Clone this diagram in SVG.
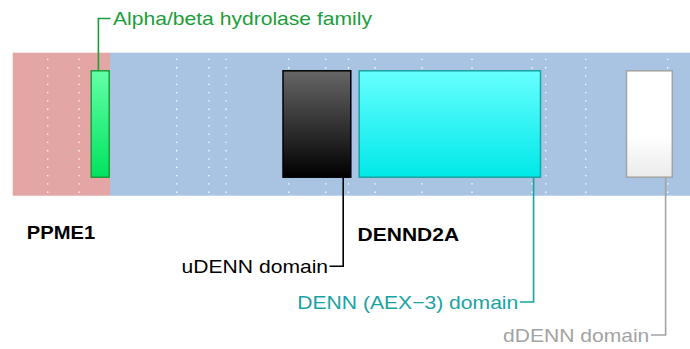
<svg xmlns="http://www.w3.org/2000/svg" width="690" height="349" viewBox="0 0 690 349">
<defs>
<linearGradient id="gGreen" x1="0" y1="0" x2="0" y2="1"><stop offset="0" stop-color="#63ffa6"/><stop offset="1" stop-color="#00e35e"/></linearGradient>
<linearGradient id="gBlack" x1="0" y1="0" x2="0" y2="1"><stop offset="0" stop-color="#666666"/><stop offset="1" stop-color="#000000"/></linearGradient>
<linearGradient id="gCyan" x1="0" y1="0" x2="0" y2="1"><stop offset="0" stop-color="#66ffff"/><stop offset="1" stop-color="#00e8e8"/></linearGradient>
<linearGradient id="gWhite" x1="0" y1="0" x2="0" y2="1"><stop offset="0" stop-color="#ffffff"/><stop offset="0.6" stop-color="#ffffff"/><stop offset="1" stop-color="#ebebeb"/></linearGradient>
</defs>
<style>
.dot{stroke:#ffffff;stroke-width:1.3;stroke-dasharray:1.3 7;fill:none}
.lbl{font-family:"Liberation Sans",Arial,sans-serif;font-size:18.5px}
.bold{font-family:"Liberation Sans",Arial,sans-serif;font-size:18px;font-weight:bold;fill:#000}
.con{fill:none;stroke-width:1.6}
.box{stroke-width:1.5}
</style>
<g id="background">
<rect x="12.7" y="52.7" width="97.3" height="143" fill="#e4a5a5"/>
<rect x="110" y="52.7" width="580" height="143" fill="#a9c4e3"/>
</g>
<g id="gridlines">
<line class="dot" x1="47.7" y1="58.8" x2="47.7" y2="194"/>
<line class="dot" x1="79" y1="58.8" x2="79" y2="194"/>
<line class="dot" x1="176.7" y1="58.8" x2="176.7" y2="194"/>
<line class="dot" x1="209" y1="58.8" x2="209" y2="194"/>
<line class="dot" x1="226" y1="58.8" x2="226" y2="194"/>
<line class="dot" x1="288.7" y1="58.8" x2="288.7" y2="194"/>
<line class="dot" x1="325.7" y1="58.8" x2="325.7" y2="194"/>
<line class="dot" x1="348.5" y1="58.8" x2="348.5" y2="194"/>
<line class="dot" x1="375" y1="58.8" x2="375" y2="194"/>
<line class="dot" x1="422" y1="58.8" x2="422" y2="194"/>
<line class="dot" x1="472" y1="58.8" x2="472" y2="194"/>
<line class="dot" x1="532" y1="58.8" x2="532" y2="194"/>
<line class="dot" x1="545.7" y1="58.8" x2="545.7" y2="194"/>
<line class="dot" x1="585.7" y1="58.8" x2="585.7" y2="194"/>
<line class="dot" x1="667.7" y1="58.8" x2="667.7" y2="194"/>
</g>
<g id="alpha-beta-hydrolase">
<rect class="box" x="91.2" y="70.8" width="18" height="106.4" fill="url(#gGreen)" stroke="#1a9e3a"/>
</g>
<g id="udenn">
<rect class="box" x="283" y="70.8" width="67.8" height="106.4" fill="url(#gBlack)" stroke="#000000"/>
</g>
<g id="denn">
<rect class="box" x="359.2" y="70.8" width="181.3" height="106.4" fill="url(#gCyan)" stroke="#1aa3a3"/>
</g>
<g id="ddenn">
<rect class="box" x="626.5" y="70.8" width="45.8" height="106.4" fill="url(#gWhite)" stroke="#a3a3a3"/>
</g>
<g id="connectors">
<polyline class="con" stroke="#1a9e3a" points="98.4,70.8 98.4,18.5 110.5,18.5"/>
<polyline class="con" stroke="#000000" points="343.2,177.2 343.2,266.3 329.5,266.3"/>
<polyline class="con" stroke="#1aa3a3" points="533.6,177.2 533.6,302 520,302"/>
<polyline class="con" stroke="#a3a3a3" points="665.6,177.2 665.6,335 651,335"/>
</g>
<g id="labels">
<text class="lbl" x="113" y="24.8" fill="#1a9e3a" textLength="259" lengthAdjust="spacingAndGlyphs">Alpha/beta hydrolase family</text>
<text class="bold" x="26.8" y="238.6" textLength="68.3" lengthAdjust="spacingAndGlyphs">PPME1</text>
<text class="bold" x="357.6" y="241.2" textLength="101.5" lengthAdjust="spacingAndGlyphs">DENND2A</text>
<text class="lbl" x="181.6" y="273" fill="#000000" textLength="146.5" lengthAdjust="spacingAndGlyphs">uDENN domain</text>
<text class="lbl" x="297.3" y="308.6" fill="#1aa3a3" textLength="221" lengthAdjust="spacingAndGlyphs">DENN (AEX−3) domain</text>
<text class="lbl" x="503" y="341.6" fill="#a3a3a3" textLength="146.3" lengthAdjust="spacingAndGlyphs">dDENN domain</text>
</g>
</svg>
